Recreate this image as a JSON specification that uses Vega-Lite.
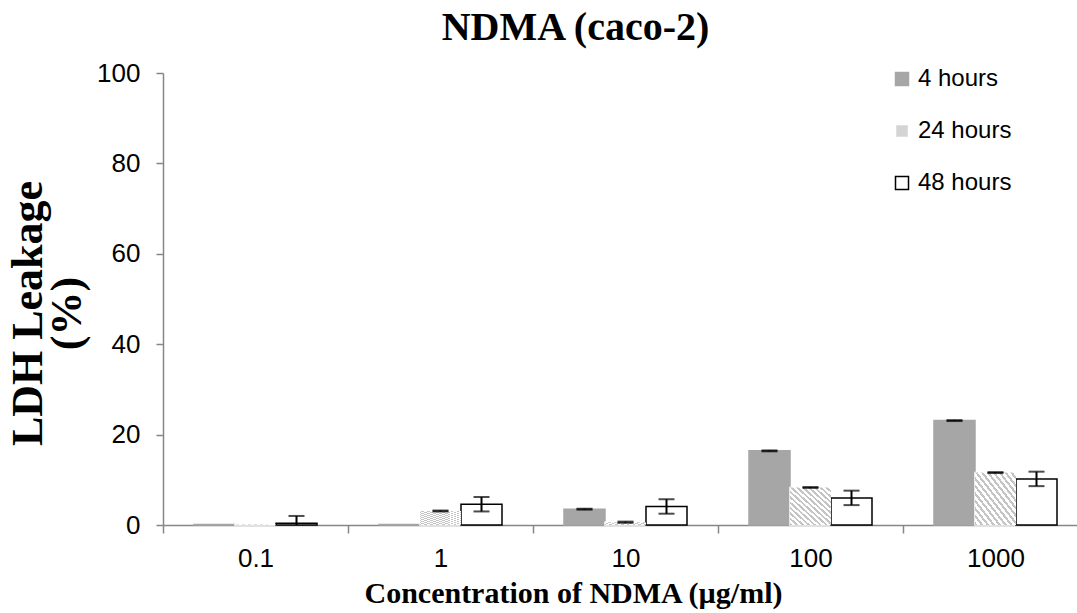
{
  "$schema": "https://vega.github.io/schema/vega-lite/v6.json",
  "autosize": "none",
  "width": 925,
  "height": 452,
  "padding": {"left": 163, "top": 73, "right": 0, "bottom": 88},
  "background": "white",
  "title": {
    "text": "NDMA (caco-2)",
    "font": "Liberation Serif",
    "fontSize": 40,
    "fontWeight": "bold",
    "color": "black",
    "anchor": "middle",
    "dx": -50,
    "offset": 12
  },
  "config": {
    "view": {"stroke": null},
    "axis": {"grid": false, "domainColor": "#868686", "tickColor": "#868686", "domainWidth": 1.5, "tickWidth": 1.5, "labelFont": "Liberation Sans", "labelFontSize": 26, "labelColor": "black", "titleColor": "black", "titleFont": "Liberation Serif", "titleFontWeight": "bold"}
  },
  "data": {
    "values": [
      {"conc": "0.1", "time": "4 hours", "value": 0.1, "lo": null, "hi": null},
      {"conc": "0.1", "time": "24 hours", "value": 0.1, "lo": null, "hi": null},
      {"conc": "0.1", "time": "48 hours", "value": 0.4, "lo": -1.2, "hi": 2.0},
      {"conc": "1", "time": "4 hours", "value": 0.1, "lo": null, "hi": null},
      {"conc": "1", "time": "24 hours", "value": 3.1, "lo": 3.0, "hi": 3.2},
      {"conc": "1", "time": "48 hours", "value": 4.6, "lo": 3.0, "hi": 6.2},
      {"conc": "10", "time": "4 hours", "value": 3.5, "lo": 3.4, "hi": 3.6},
      {"conc": "10", "time": "24 hours", "value": 0.6, "lo": 0.5, "hi": 0.75},
      {"conc": "10", "time": "48 hours", "value": 4.1, "lo": 2.5, "hi": 5.7},
      {"conc": "100", "time": "4 hours", "value": 16.4, "lo": 16.3, "hi": 16.5},
      {"conc": "100", "time": "24 hours", "value": 8.3, "lo": 8.2, "hi": 8.4},
      {"conc": "100", "time": "48 hours", "value": 6.0, "lo": 4.4, "hi": 7.6},
      {"conc": "1000", "time": "4 hours", "value": 23.1, "lo": 23.0, "hi": 23.2},
      {"conc": "1000", "time": "24 hours", "value": 11.6, "lo": 11.5, "hi": 11.7},
      {"conc": "1000", "time": "48 hours", "value": 10.2, "lo": 8.6, "hi": 11.8}
    ]
  },
  "encoding": {
    "x": {
      "field": "conc", "type": "nominal", "sort": ["0.1", "1", "10", "100", "1000"],
      "scale": {"paddingInner": 0, "paddingOuter": 0},
      "axis": {"labelAngle": 0, "tickBand": "extent", "tickSize": 8, "labelPadding": 12, "title": "Concentration of NDMA (µg/ml)", "titleFontSize": 30, "titleX": 410, "titleY": 77, "titleBaseline": "alphabetic", "titleAnchor": null}
    },
    "xOffset": {
      "field": "time", "type": "nominal",
      "scale": {"domain": ["4 hours", "24 hours", "48 hours"], "paddingInner": 0, "paddingOuter": 0.756}
    }
  },
  "layer": [
    {
      "mark": {"type": "bar", "strokeWidth": 1.5},
      "encoding": {
        "y": {
          "field": "value", "type": "quantitative",
          "scale": {"domain": [0, 100]},
          "axis": {"values": [0, 20, 40, 60, 80, 100], "tickSize": 7, "labelPadding": 16, "title": ["LDH Leakage", "(%)"], "titleFontSize": 44, "titleLineHeight": 39, "titleAngle": -90, "titleX": -135, "titleY": 240, "titleAlign": "center", "titleBaseline": "middle"}
        },
        "fill": {
          "field": "time", "type": "nominal",
          "scale": {"domain": ["4 hours", "24 hours", "48 hours"], "range": ["#a6a6a6", "#d4d4d4", "#ffffff"]},
          "legend": {"title": null, "orient": "none", "legendX": 727, "legendY": -6, "symbolType": "square", "symbolSize": 169, "symbolStrokeWidth": 1.5, "labelFont": "Liberation Sans", "labelFontSize": 24, "labelColor": "black", "rowPadding": 28, "labelOffset": 4}
        },
        "stroke": {
          "field": "time", "type": "nominal",
          "scale": {"domain": ["4 hours", "24 hours", "48 hours"], "range": ["#a6a6a6", "#ffffff", "#000000"]},
          "legend": null
        }
      }
    },
    {
      "transform": [{"filter": "datum.time === '24 hours'"}],
      "mark": {
        "type": "bar",
        "fill": {
          "gradient": "linear", "x1": 0, "y1": 1, "x2": 1, "y2": 0,
          "stops": [
            {"offset": 0, "color": "#c4c4c4"}, {"offset": 0.0321, "color": "#c4c4c4"}, {"offset": 0.0321, "color": "#ffffff"}, {"offset": 0.0714, "color": "#ffffff"},
            {"offset": 0.0714, "color": "#c4c4c4"}, {"offset": 0.1036, "color": "#c4c4c4"}, {"offset": 0.1036, "color": "#ffffff"}, {"offset": 0.1429, "color": "#ffffff"},
            {"offset": 0.1429, "color": "#c4c4c4"}, {"offset": 0.175, "color": "#c4c4c4"}, {"offset": 0.175, "color": "#ffffff"}, {"offset": 0.2143, "color": "#ffffff"},
            {"offset": 0.2143, "color": "#c4c4c4"}, {"offset": 0.2464, "color": "#c4c4c4"}, {"offset": 0.2464, "color": "#ffffff"}, {"offset": 0.2857, "color": "#ffffff"},
            {"offset": 0.2857, "color": "#c4c4c4"}, {"offset": 0.3179, "color": "#c4c4c4"}, {"offset": 0.3179, "color": "#ffffff"}, {"offset": 0.3571, "color": "#ffffff"},
            {"offset": 0.3571, "color": "#c4c4c4"}, {"offset": 0.3893, "color": "#c4c4c4"}, {"offset": 0.3893, "color": "#ffffff"}, {"offset": 0.4286, "color": "#ffffff"},
            {"offset": 0.4286, "color": "#c4c4c4"}, {"offset": 0.4607, "color": "#c4c4c4"}, {"offset": 0.4607, "color": "#ffffff"}, {"offset": 0.5, "color": "#ffffff"},
            {"offset": 0.5, "color": "#c4c4c4"}, {"offset": 0.5321, "color": "#c4c4c4"}, {"offset": 0.5321, "color": "#ffffff"}, {"offset": 0.5714, "color": "#ffffff"},
            {"offset": 0.5714, "color": "#c4c4c4"}, {"offset": 0.6036, "color": "#c4c4c4"}, {"offset": 0.6036, "color": "#ffffff"}, {"offset": 0.6429, "color": "#ffffff"},
            {"offset": 0.6429, "color": "#c4c4c4"}, {"offset": 0.675, "color": "#c4c4c4"}, {"offset": 0.675, "color": "#ffffff"}, {"offset": 0.7143, "color": "#ffffff"},
            {"offset": 0.7143, "color": "#c4c4c4"}, {"offset": 0.7464, "color": "#c4c4c4"}, {"offset": 0.7464, "color": "#ffffff"}, {"offset": 0.7857, "color": "#ffffff"},
            {"offset": 0.7857, "color": "#c4c4c4"}, {"offset": 0.8179, "color": "#c4c4c4"}, {"offset": 0.8179, "color": "#ffffff"}, {"offset": 0.8571, "color": "#ffffff"},
            {"offset": 0.8571, "color": "#c4c4c4"}, {"offset": 0.8893, "color": "#c4c4c4"}, {"offset": 0.8893, "color": "#ffffff"}, {"offset": 0.9286, "color": "#ffffff"},
            {"offset": 0.9286, "color": "#c4c4c4"}, {"offset": 0.9607, "color": "#c4c4c4"}, {"offset": 0.9607, "color": "#ffffff"}, {"offset": 1, "color": "#ffffff"}
          ]
        }
      },
      "encoding": {
        "y": {"field": "value", "type": "quantitative"}
      }
    },
    {
      "mark": {"type": "rule", "color": "black", "strokeWidth": 2, "clip": true},
      "encoding": {
        "y": {"field": "lo", "type": "quantitative"},
        "y2": {"field": "hi"}
      }
    },
    {
      "mark": {"type": "tick", "color": "black", "thickness": 2, "size": 16, "clip": true, "orient": "horizontal"},
      "encoding": {
        "y": {"field": "lo", "type": "quantitative"}
      }
    },
    {
      "mark": {"type": "tick", "color": "black", "thickness": 2, "size": 16, "clip": true, "orient": "horizontal"},
      "encoding": {
        "y": {"field": "hi", "type": "quantitative"}
      }
    }
  ]
}
